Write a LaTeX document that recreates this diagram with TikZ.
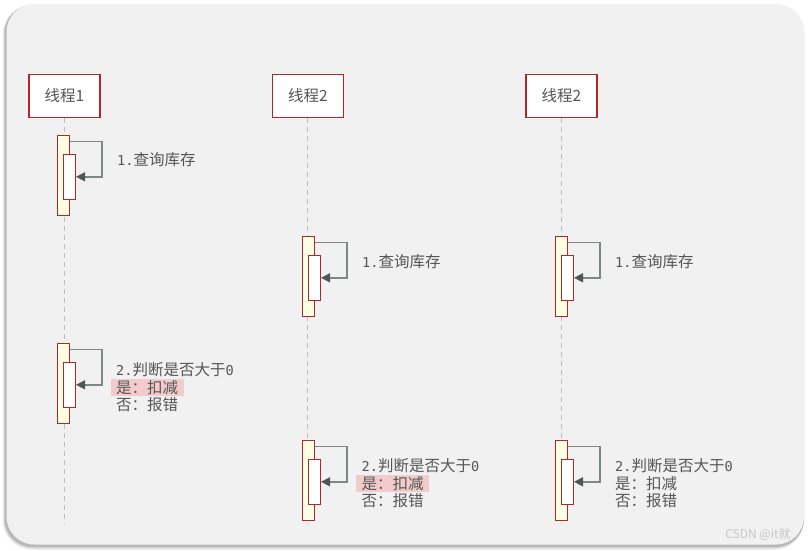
\documentclass[tikz,border=0pt]{standalone}
\usepackage{fontspec}
\newfontfamily\cjk{Noto Sans CJK SC}
\newfontfamily\monof{DejaVu Sans Mono}
\usetikzlibrary{arrows.meta}
\definecolor{bgfill}{RGB}{241,241,241}
\definecolor{boxred}{RGB}{178,40,40}
\definecolor{actyellow}{RGB}{255,255,228}
\definecolor{txt}{RGB}{85,85,85}
\definecolor{hlpink}{RGB}{242,204,204}
\definecolor{msgline}{RGB}{128,133,133}
\definecolor{tipgray}{RGB}{80,85,85}
\definecolor{lifegray}{RGB}{190,190,190}
\newcommand\zh[1]{{\cjk\fontsize{15.5}{18}\selectfont #1}}
\newcommand\mn[1]{{\monof\fontsize{13.6}{18}\selectfont #1}}
\tikzset{
  header/.style={draw=boxred, line width=1.1pt, fill=white, minimum width=71pt, minimum height=43pt, inner sep=0pt, text=txt, font=\cjk\fontsize{15.5}{18}\selectfont},
  lifeline/.style={draw=lifegray, line width=0.9pt, dash pattern=on 5pt off 4pt},
  outerbar/.style={draw=boxred, line width=1pt, fill=actyellow, minimum width=12pt, minimum height=80pt, inner sep=0pt},
  innerbar/.style={draw=boxred, line width=1pt, fill=white, minimum width=12pt, minimum height=45pt, inner sep=0pt},
  msg/.style={draw=msgline, line width=1.4pt, -{Triangle[length=9pt,width=9pt,color=tipgray]}},
  lbl/.style={anchor=west, inner xsep=5.5pt, inner ysep=0pt, minimum height=17.4pt, text=txt},
  hl/.style={lbl, fill=hlpink},
}
\begin{document}
\begin{tikzpicture}[x=1pt,y=-1pt]
\useasboundingbox (0,0) rectangle (809,550);
% background card with shadow
\fill[white] (0,0) rectangle (809,550);
\fill[black, opacity=0.06, rounded corners=30pt] (2.5,5) rectangle (804,550);
\fill[black, opacity=0.10, rounded corners=29pt] (3.5,5) rectangle (804,548.5);
\fill[black, opacity=0.14, rounded corners=28pt] (4.5,5) rectangle (804,547);
\fill[bgfill, rounded corners=28pt] (6.5,4) rectangle (804,544.5);

% headers
\node[header] (h1) at (64.5,95.7) {线程1};
\node[header] (h2) at (307.8,95.7) {线程2};
\node[header] (h3) at (561.5,95.7) {线程2};

% lifelines
\coordinate (e1) at (64.5,523);
\coordinate (e2) at (307.8,523);
\coordinate (e3) at (561.5,523);
\draw[lifeline] (h1.south) -- (e1);
\draw[lifeline] (h2.south) -- (e2);
\draw[lifeline] (h3.south) -- (e3);

% activations
\node[outerbar] (a1) at (63.5,175.3) {};
\node[innerbar] (b1) at (69.5,176.8) {};
\node[outerbar] (a2) at (308.3,276.3) {};
\node[innerbar] (b2) at (314.5,277.8) {};
\node[outerbar] (a3) at (561.3,276.3) {};
\node[innerbar] (b3) at (567.5,277.8) {};
\node[outerbar] (a4) at (63.5,383.3) {};
\node[innerbar] (b4) at (69.5,384.8) {};
\node[outerbar] (a5) at (308.3,480.3) {};
\node[innerbar] (b5) at (314.5,481.8) {};
\node[outerbar] (a6) at (561.3,480.3) {};
\node[innerbar] (b6) at (567.5,481.8) {};

% self messages
\foreach \i in {1,...,6}{
  \draw[msg] ([yshift=-6.5pt]a\i.north east) -- ++(32,0) |- (b\i.east);
}

% labels
\node[lbl] (m1) at (111.5,160) {\mn{1.}\zh{查询库存}};
\node[lbl] (m2) at (356.5,262) {\mn{1.}\zh{查询库存}};
\node[lbl] (m3) at (609.5,262) {\mn{1.}\zh{查询库存}};

\node[lbl] (m4a) at (110.5,369.3) {\mn{2.}\zh{判断是否大于}\mn{0}};
\node[hl]  (m4b) at (110.5,387.2) {\zh{是：扣减}};
\node[lbl] (m4c) at (110.5,405) {\zh{否：报错}};

\node[lbl] (m5a) at (356,465.7) {\mn{2.}\zh{判断是否大于}\mn{0}};
\node[hl]  (m5b) at (356,483.3) {\zh{是：扣减}};
\node[lbl] (m5c) at (356,501) {\zh{否：报错}};

\node[lbl] (m6a) at (609.5,465.7) {\mn{2.}\zh{判断是否大于}\mn{0}};
\node[lbl] (m6b) at (609.5,483.3) {\zh{是：扣减}};
\node[lbl] (m6c) at (609.5,501) {\zh{否：报错}};

% watermark
\node[text=black!22, font=\cjk\fontsize{12}{14}\selectfont, inner sep=0pt] (wm) at (758,534) {CSDN @it就};
\end{tikzpicture}
\end{document}
